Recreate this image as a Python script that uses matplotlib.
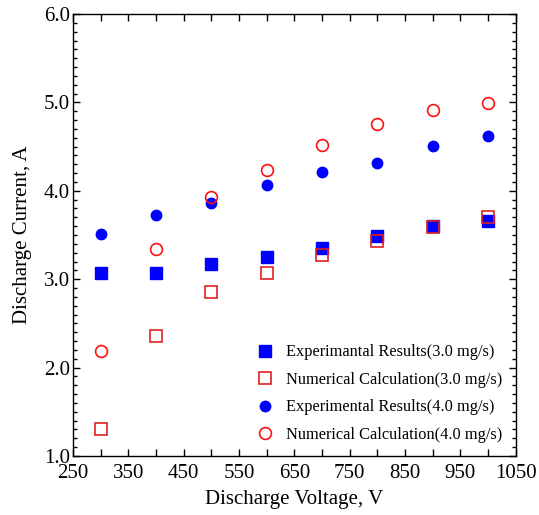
import matplotlib.pyplot as plt
from matplotlib.ticker import MultipleLocator, FormatStrFormatter

plt.rcParams['font.family'] = ['Liberation Serif', 'DejaVu Serif']

voltage = [300, 400, 500, 600, 700, 800, 900, 1000]
exp_30 = [3.07, 3.07, 3.17, 3.25, 3.35, 3.49, 3.60, 3.66]
num_30 = [1.31, 2.36, 2.86, 3.07, 3.27, 3.43, 3.59, 3.70]
exp_40 = [3.51, 3.73, 3.86, 4.07, 4.21, 4.31, 4.51, 4.62]
num_40 = [2.19, 3.34, 3.93, 4.24, 4.52, 4.76, 4.91, 4.99]

fig = plt.figure(figsize=(5.39, 5.15), dpi=100)
ax = fig.add_axes([0.1354, 0.1146, 0.8216, 0.8582])

ax.plot(voltage, exp_30, 's', color='#0000ff', ms=8, mec='#0000ff',
        label='Experimantal Results(3.0 mg/s)')
ax.plot(voltage, num_30, 's', mfc='none', mec='#e02020', ms=8, mew=1.2,
        label='Numerical Calculation(3.0 mg/s)')
ax.plot(voltage, exp_40, 'o', color='#0000ff', ms=7.5,
        label='Experimental Results(4.0 mg/s)')
ax.plot(voltage, num_40, 'o', mfc='none', mec='#ff1010', ms=8.5, mew=1.2,
        label='Numerical Calculation(4.0 mg/s)')

ax.set_xlim(250, 1050)
ax.set_ylim(1.0, 6.0)
ax.xaxis.set_major_locator(MultipleLocator(100, offset=50))
ax.xaxis.set_minor_locator(MultipleLocator(50))
ax.yaxis.set_major_locator(MultipleLocator(1.0))
ax.yaxis.set_minor_locator(MultipleLocator(0.1))
ax.yaxis.set_major_formatter(FormatStrFormatter('%.1f'))

ax.tick_params(which='both', direction='in', top=True, right=True,
               labelsize=15, width=1.0)
ax.tick_params(which='major', length=5, pad=2)
ax.tick_params(which='minor', length=3)
ax.tick_params(axis='x', which='minor', length=5)
ax.tick_params(axis='x', which='major', pad=6)
for s in ax.spines.values():
    s.set_linewidth(1.0)

ax.set_xlabel('Discharge Voltage, V', fontsize=15, labelpad=5)
ax.set_ylabel('Discharge Current, A', fontsize=15, labelpad=9)

ax.legend(loc='lower right', frameon=False, fontsize=11.8, handletextpad=0.7,
          handlelength=1.2, labelspacing=0.7, borderaxespad=0.5,
          borderpad=0.3)

fig.savefig('out.png', dpi=100)
